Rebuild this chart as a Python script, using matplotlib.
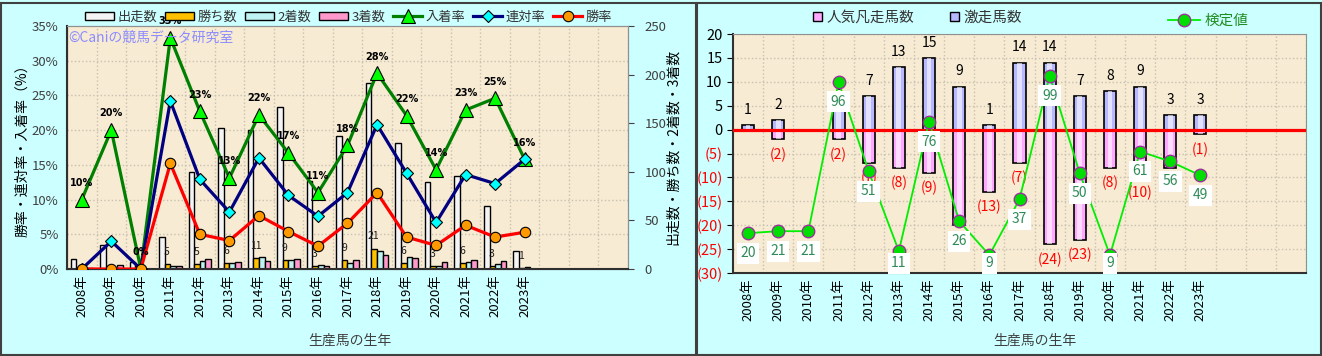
import numpy as np
import matplotlib
matplotlib.use('Agg')
import matplotlib.pyplot as plt
from matplotlib.patches import Rectangle, Patch

plt.rcParams['font.family'] = ['Noto Sans CJK JP', 'DejaVu Sans']

# ---- data ----
years = ['2008年', '2009年', '2010年', '2011年', '2012年', '2013年', '2014年', '2015年',
         '2016年', '2017年', '2018年', '2019年', '2020年', '2021年', '2022年', '2023年']
n_slots = 19   # the chart keeps 3 empty slots after 2023

# left chart: counts
runs = [10, 25, 7, 33, 100, 145, 143, 167, 91, 137, 191, 130, 89, 96, 65, 19]
wins = [0, 0, 0, 5, 5, 6, 11, 9, 3, 9, 21, 6, 3, 6, 3, 1]
seconds = [0, 1, 0, 3, 8, 6, 12, 9, 4, 6, 19, 12, 3, 7, 5, 2]
thirds = [1, 4, 0, 3, 10, 7, 8, 10, 3, 9, 14, 11, 7, 9, 8, 0]

# left chart: rates (%)
place_rate = [10.0, 20.0, 0.0, 33.3, 22.7, 13.1, 22.2, 16.7, 11.0, 17.8, 28.2, 22.1, 14.3, 22.9, 24.6, 15.8]
rentai_rate = [0.0, 4.0, 0.0, 24.2, 12.9, 8.2, 16.0, 10.6, 7.6, 11.0, 20.8, 13.8, 6.7, 13.6, 12.3, 15.8]
win_rate = [0.0, 0.0, 0.0, 15.2, 5.0, 4.1, 7.7, 5.4, 3.3, 6.6, 11.0, 4.6, 3.4, 6.3, 4.6, 5.3]

# right chart
hot_runs = [1, 2, 0, 6, 7, 13, 15, 9, 1, 14, 14, 7, 8, 9, 3, 3]        # 激走馬数
flop_runs = [0, 2, 0, 2, 7, 8, 9, 20, 13, 7, 24, 23, 8, 10, 8, 1]      # 人気凡走馬数
test_val = [20, 21, 21, 96, 51, 11, 76, 26, 9, 37, 99, 50, 9, 61, 56, 49]  # 検定値

W, H = 1322, 356
BG = '#CCFFFF'
PLOT_BG = '#F7EBD3'
GRID = '#C8C0B0'

fig = plt.figure(figsize=(W / 100, H / 100), dpi=100, facecolor=BG)

def px_rect(x0, x1, ytop, ybot):
    return [x0 / W, (H - ybot) / H, (x1 - x0) / W, (ybot - ytop) / H]

# panel borders
fig.patches.append(Rectangle((0.5 / W, 1.5 / H), 695 / W, 352 / H, transform=fig.transFigure,
                             fill=False, edgecolor='#404040', lw=1.5))
fig.patches.append(Rectangle((697 / W, 1.5 / H), 623.5 / W, 352 / H, transform=fig.transFigure,
                             fill=False, edgecolor='#404040', lw=1.5))

x = np.arange(len(years))

# ================= left chart =================
ax_c = fig.add_axes(px_rect(67, 628, 26, 269))
ax_c.set_facecolor(PLOT_BG)
ax_c.set_xlim(-0.5, n_slots - 0.5)
ax_c.set_ylim(0, 250)

ax_c.set_xticks(np.arange(n_slots) + 0.5, minor=True)
ax_c.set_yticks(np.arange(1, 7) * 250 / 7, minor=True)
ax_c.grid(which='minor', color=GRID, linestyle=':', linewidth=1)
ax_c.set_axisbelow(True)

w = 0.19
bar_specs = [(runs, '#F4F4F4', '出走数'), (wins, '#FFC000', '勝ち数'),
             (seconds, '#BFF2F2', '2着数'), (thirds, '#FF99CC', '3着数')]
for k, (vals, col, lab) in enumerate(bar_specs):
    ax_c.bar(x + (k - 1.5) * w, vals, width=w, color=col, edgecolor='black', lw=1.0, label=lab, zorder=2)

for xi, v in zip(x, wins):
    if v > 0:
        ax_c.annotate(str(v), (xi - 0.12, v), xytext=(0, 9), textcoords='offset points',
                      ha='center', va='center', fontsize=7.5, color='#202020', zorder=3)

ax_c.set_xticks(x)
ax_c.set_xticklabels(years, rotation=90, fontsize=9.5)
ax_c.tick_params(axis='x', length=0, pad=4)
ax_c.tick_params(which='minor', length=0)

ax_p = ax_c.twinx()
ax_p.set_ylim(0, 35)

# counts on the right, percentages on the left
ax_c.yaxis.tick_right()
ax_c.set_yticks(np.arange(0, 251, 50))
ax_c.tick_params(axis='y', which='major', labelsize=9.5, labelcolor='#404040', length=4,
                 color='#404040', pad=8)
ax_p.yaxis.tick_left()
ax_p.set_yticks(np.arange(0, 36, 5))
ax_p.set_yticklabels(['%d%%' % v for v in range(0, 36, 5)])
ax_p.tick_params(axis='y', labelsize=9.5, labelcolor='#404040', length=0, pad=6)

l1, = ax_p.plot(x, place_rate, color='#008000', lw=2.3, marker='^', markersize=10,
                markerfacecolor='#00FF00', markeredgecolor='black', markeredgewidth=0.8, label='入着率', zorder=4)
l2, = ax_p.plot(x, rentai_rate, color='#000080', lw=2.3, marker='D', markersize=6.5,
                markerfacecolor='#00FFFF', markeredgecolor='black', markeredgewidth=0.8, label='連対率', zorder=4)
l3, = ax_p.plot(x, win_rate, color='#FF0000', lw=2.3, marker='o', markersize=7.5,
                markerfacecolor='#FF9900', markeredgecolor='black', markeredgewidth=0.8, label='勝率', zorder=4)

for xi, v in zip(x, place_rate):
    ax_p.annotate('%.0f%%' % v, (xi, v), xytext=(0, 12), textcoords='offset points',
                  ha='center', va='center', fontsize=7, fontweight='bold', color='black',
                  family='DejaVu Sans', zorder=5)

ax_p.text(0.002, 0.95, '©Caniの競馬データ研究室', transform=ax_p.transAxes, fontsize=10,
          color='#8C8CFF', ha='left', va='center', zorder=6)

for sp in ['top', 'right']:
    ax_c.spines[sp].set_color('#909090')
    ax_p.spines[sp].set_color('#909090')
for sp in ['left', 'bottom']:
    ax_c.spines[sp].set_color('#303030')
    ax_p.spines[sp].set_color('#303030')
    ax_p.spines[sp].set_linewidth(1.5)

handles = [Patch(facecolor=c, edgecolor='black', label=l) for _, c, l in bar_specs] + [l1, l2, l3]
fig.legend(handles=handles, loc='center left', bbox_to_anchor=(76 / W, (H - 17) / H), ncol=7,
           frameon=False, fontsize=9.5, handlelength=2.2, handleheight=0.5, handletextpad=0.25,
           columnspacing=0.6, borderpad=0.2, labelcolor='#333333')

fig.text(22 / W, (H - 147) / H, '勝率・連対率・入着率（%）', rotation=90, ha='center', va='center',
         fontsize=10, color='black')
fig.text(673 / W, (H - 147) / H, '出走数・勝ち数・2着数・3着数', rotation=90, ha='center', va='center',
         fontsize=10, color='black')
fig.text(350 / W, (H - 341) / H, '生産馬の生年', ha='center', va='center', fontsize=10, color='#404040')

# ================= right chart =================
ax_r = fig.add_axes(px_rect(733, 1306, 34, 273))
ax_r.set_facecolor(PLOT_BG)
ax_r.set_xlim(-0.5, n_slots - 0.5)
ax_r.set_ylim(-30, 20)
ax_r.set_xticks(np.arange(n_slots) + 0.5, minor=True)
ax_r.grid(which='minor', axis='x', color=GRID, linestyle=':', linewidth=1)
ax_r.grid(which='major', axis='y', color=GRID, linestyle=':', linewidth=1)
ax_r.set_axisbelow(True)

neg = [-v for v in flop_runs]
ax_r.bar(x, hot_runs, width=0.4, color='#B8B8FF', edgecolor='black', lw=1.2, zorder=2, label='激走馬数')
ax_r.bar(x, neg, width=0.4, color='#FFA8FF', edgecolor='black', lw=1.2, zorder=2, label='人気凡走馬数')
# light centre stripe (the original bars have a white gradient in the middle)
ax_r.bar(x, hot_runs, width=0.16, color='white', alpha=0.6, lw=0, zorder=2.1)
ax_r.bar(x, neg, width=0.16, color='white', alpha=0.6, lw=0, zorder=2.1)
ax_r.axhline(0, color='#FF0000', lw=2.3, zorder=3)

for xi, v in zip(x, hot_runs):
    if v > 0:
        ax_r.annotate(str(v), (xi, v), xytext=(0, 11), textcoords='offset points',
                      ha='center', va='center', fontsize=10, color='black', zorder=3)
for xi, v in zip(x, flop_runs):
    if v > 0:
        ax_r.annotate('(%d)' % v, (xi, -v), xytext=(0, -11), textcoords='offset points',
                      ha='center', va='center', fontsize=10, color='#FF0000', zorder=3)

yt = np.arange(-30, 21, 5)
ax_r.set_yticks(yt)
ax_r.set_yticklabels([str(v) if v >= 0 else '(%d)' % -v for v in yt])
for lab, v in zip(ax_r.get_yticklabels(), yt):
    lab.set_color('black' if v >= 0 else '#FF0000')
ax_r.tick_params(axis='y', labelsize=10.5, length=4)
ax_r.set_xticks(x)
ax_r.set_xticklabels(years, rotation=90, fontsize=9.5)
ax_r.tick_params(axis='x', length=0, pad=4)
ax_r.tick_params(which='minor', length=0)
for sp in ['top', 'right']:
    ax_r.spines[sp].set_color('#909090')
for sp in ['left', 'bottom']:
    ax_r.spines[sp].set_color('#303030')
    ax_r.spines[sp].set_linewidth(1.5)

ax_t = ax_r.twinx()
ax_t.set_ylim(0, 120)
ax_t.set_yticks([])
for sp in ax_t.spines.values():
    sp.set_visible(False)
lt, = ax_t.plot(x, test_val, color='#00EE00', lw=1.3, marker='o', markersize=9,
                markerfacecolor='#00DD00', markeredgecolor='#993399', markeredgewidth=1.0,
                label='検定値', zorder=4)
# value boxes sit below the point, but are kept inside the plot like the original
for xi, v in zip(x, test_val):
    ax_t.annotate(str(v), (xi, max(v - 10, 5)), ha='center', va='center', fontsize=10,
                  color='#2E8B57', zorder=5,
                  bbox=dict(boxstyle='square,pad=0.25', facecolor='white', edgecolor='none'))

fig.legend(handles=[Patch(facecolor='#FFA8FF', edgecolor='black', label='人気凡走馬数'),
                    Patch(facecolor='#B8B8FF', edgecolor='black', label='激走馬数')],
           loc='center left', bbox_to_anchor=(800 / W, (H - 18) / H), ncol=2, frameon=False,
           fontsize=10.5, handlelength=0.6, handleheight=0.6, handletextpad=0.3,
           columnspacing=2.5, labelcolor='#333333')
fig.legend(handles=[lt], loc='center left', bbox_to_anchor=(1155 / W, (H - 21) / H), frameon=False,
           fontsize=10.5, handlelength=2.2, handletextpad=0.3, labelcolor='#1E8C1E')

fig.text(1035 / W, (H - 341) / H, '生産馬の生年', ha='center', va='center', fontsize=10, color='#404040')

fig.savefig('out.png', dpi=100, facecolor=BG)
